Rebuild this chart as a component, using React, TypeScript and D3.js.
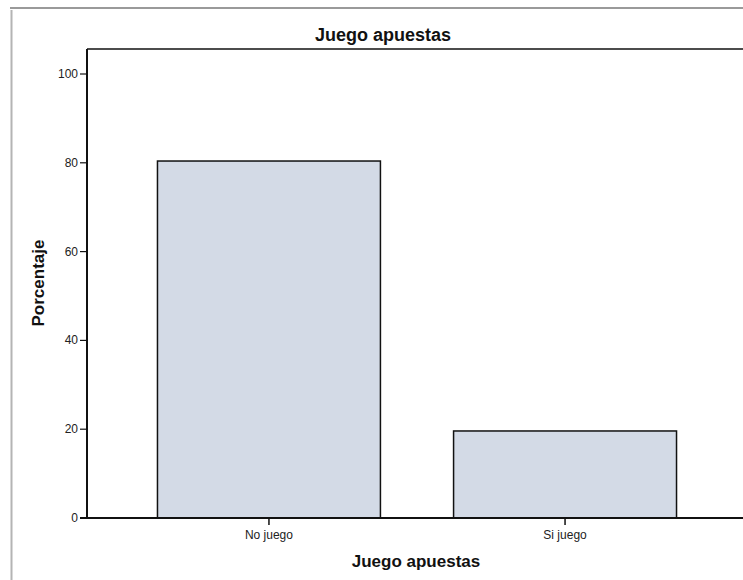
import React from "react";
import * as d3 from "d3";

const categories = ["No juego", "Si juego"];
const values = [80.4, 19.6];
const yTicks = [0, 20, 40, 60, 80, 100];
const chartTitle = "Juego apuestas";
const xTitle = "Juego apuestas";
const yTitle = "Porcentaje";

export default function App() {
  const W = 743, H = 580;
  const left = 87, right = 747, top = 49, bottom = 518;
  const y = d3.scaleLinear().domain([0, 100]).range([bottom, 74]);
  const x = d3.scaleBand<string>().domain(categories).range([left, right]).paddingInner(0.247).paddingOuter(0.238);
  const font = "'Liberation Sans', Arial, sans-serif";
  return (
    <svg width={W} height={H} style={{ position: "absolute", left: 0, top: 0, background: "#fff" }}>
      <rect x={0} y={0} width={W} height={H} fill="#fff" />
      {/* outer frame */}
      <line x1={10} x2={W} y1={8} y2={8} stroke="#9a9a9a" strokeWidth={2} />
      <line x1={11.5} x2={11.5} y1={10} y2={H} stroke="#b4b4b4" strokeWidth={2} />
      <text x={383} y={41} textAnchor="middle" fontFamily={font} fontWeight="bold" fontSize={18} fill="#111">{chartTitle}</text>
      {/* plot frame */}
      <line x1={left} x2={right} y1={top} y2={top} stroke="#111" strokeWidth={1.5} />
      <line x1={left} x2={left} y1={top} y2={bottom} stroke="#111" strokeWidth={2} />
      {categories.map((c, i) => (
        <rect key={c} x={x(c)!} y={y(values[i])} width={x.bandwidth()} height={bottom - y(values[i])}
          fill="#d3dae6" stroke="#111" strokeWidth={1.5} />
      ))}
      <line x1={80} x2={right} y1={bottom} y2={bottom} stroke="#111" strokeWidth={2} />
      {yTicks.map((t) => (
        <g key={t}>
          <line x1={80} x2={left} y1={y(t)} y2={y(t)} stroke="#111" strokeWidth={1.2} />
          <text x={78} y={y(t) + 4} textAnchor="end" fontFamily={font} fontSize={12} fill="#222">{t}</text>
        </g>
      ))}
      {categories.map((c) => {
        const cx = x(c)! + x.bandwidth() / 2;
        return (
          <g key={c}>
            <line x1={cx} x2={cx} y1={bottom} y2={bottom + 7} stroke="#111" strokeWidth={1.5} />
            <text x={cx} y={539} textAnchor="middle" fontFamily={font} fontSize={12} fill="#222">{c}</text>
          </g>
        );
      })}
      <text x={416} y={567} textAnchor="middle" fontFamily={font} fontWeight="bold" fontSize={17} fill="#111">{xTitle}</text>
      <text transform={`translate(44,283) rotate(-90)`} textAnchor="middle" fontFamily={font} fontWeight="bold" fontSize={17} fill="#111">{yTitle}</text>
    </svg>
  );
}
